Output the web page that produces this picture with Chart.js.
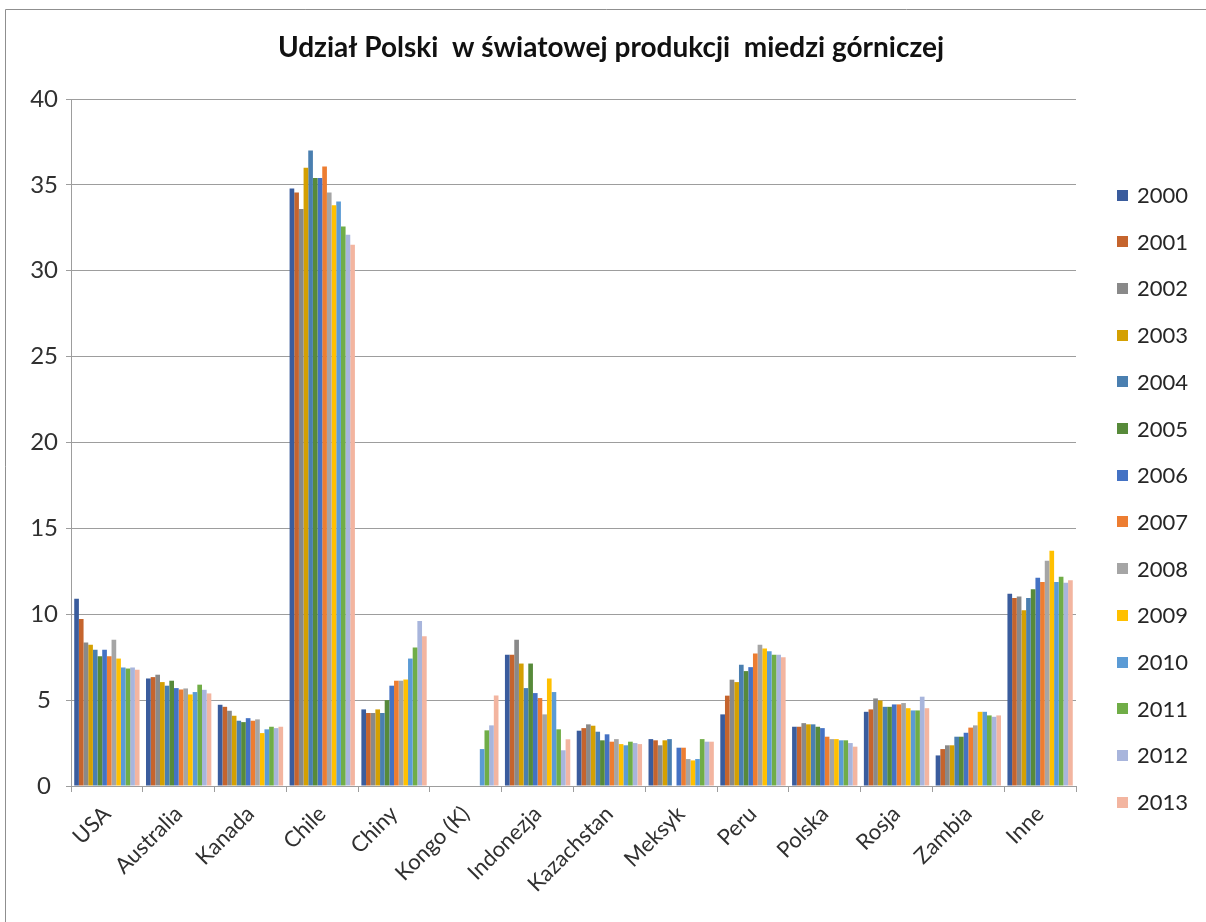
<!DOCTYPE html>
<html>
<head>
<meta charset="utf-8">
<script src="https://cdn.jsdelivr.net/npm/chart.js@4.4.1/dist/chart.umd.min.js"></script>
<style>
  html, body { margin: 0; padding: 0; background: #ffffff; }
  #wrap { width: 1206px; height: 922px; }
</style>
</head>
<body>
<div id="wrap"><canvas id="c" width="1206" height="922"></canvas></div>
<script>
// Countries / groups on the x axis
const countries = ['USA', 'Australia', 'Kanada', 'Chile', 'Chiny', 'Kongo (K)', 'Indonezja',
  'Kazachstan', 'Meksyk', 'Peru', 'Polska', 'Rosja', 'Zambia', 'Inne'];

// Years (one series per year)
const years = ['2000', '2001', '2002', '2003', '2004', '2005', '2006',
  '2007', '2008', '2009', '2010', '2011', '2012', '2013'];

// Share of world mined copper output, % (order follows `countries`)
const s2000 = [10.9, 6.26, 4.73, 34.79, 4.46, null, 7.64, 3.22, 2.73, 4.17, 3.45, 4.32, 1.78, 11.19];
const s2001 = [9.73, 6.34, 4.61, 34.56, 4.25, null, 7.64, 3.37, 2.66, 5.26, 3.45, 4.46, 2.15, 10.95];
const s2002 = [8.35, 6.48, 4.38, 33.6, 4.25, null, 8.51, 3.59, 2.37, 6.19, 3.66, 5.1, 2.37, 11.03];
const s2003 = [8.22, 6.05, 4.09, 35.99, 4.46, null, 7.13, 3.51, 2.66, 6.05, 3.59, 4.98, 2.37, 10.23];
const s2004 = [7.93, 5.84, 3.8, 37.0, 4.25, null, 5.7, 3.16, 2.73, 7.06, 3.59, 4.61, 2.87, 10.95];
const s2005 = [7.56, 6.13, 3.72, 35.4, 5.0, null, 7.13, 2.66, null, 6.69, 3.45, 4.61, 2.87, 11.45];
const s2006 = [7.93, 5.7, 3.95, 35.4, 5.84, null, 5.41, 3.01, 2.23, 6.92, 3.37, 4.75, 3.1, 12.12];
const s2007 = [7.56, 5.62, 3.8, 36.07, 6.13, null, 5.12, 2.58, 2.23, 7.72, 2.87, 4.75, 3.4, 11.88];
const s2008 = [8.51, 5.68, 3.88, 34.56, 6.13, null, 4.17, 2.73, 1.57, 8.22, 2.73, 4.83, 3.53, 13.12];
const s2009 = [7.42, 5.33, 3.08, 33.82, 6.2, null, 6.26, 2.44, 1.49, 8.01, 2.73, 4.53, 4.32, 13.7];
const s2010 = [6.9, 5.47, 3.3, 34.03, 7.42, 2.15, 5.47, 2.37, 1.57, 7.85, 2.66, 4.4, 4.32, 11.88];
const s2011 = [6.84, 5.9, 3.45, 32.58, 8.06, 3.24, 3.3, 2.58, 2.73, 7.64, 2.66, 4.4, 4.11, 12.19];
const s2012 = [6.9, 5.6, 3.37, 32.09, 9.6, 3.53, 2.08, 2.5, 2.58, 7.64, 2.5, 5.2, 4.03, 11.83];
const s2013 = [6.77, 5.39, 3.45, 31.51, 8.72, 5.27, 2.72, 2.44, 2.58, 7.5, 2.29, 4.53, 4.11, 11.98];

const seriesValues = [s2000, s2001, s2002, s2003, s2004, s2005, s2006,
  s2007, s2008, s2009, s2010, s2011, s2012, s2013];

// Value axis ticks
const yTicks = [0, 5, 10, 15, 20, 25, 30, 35, 40];

const chartTitle = 'Udział Polski  w światowej produkcji  miedzi górniczej';

const palette = ['#3A5C9D', '#C5642D', '#898989', '#D4A002', '#4A7FB0', '#578A3A', '#4472C4',
  '#ED7D31', '#A5A5A5', '#FFC000', '#5B9BD5', '#70AD47', '#A8B5DC', '#F3B5A0'];

const FONT = 'Lato, "Liberation Sans", sans-serif';
const TEXT = '#303030';
const GRID = '#9d9d9d';

// Outer frame of the chart object and the heading
const framePlugin = {
  id: 'frame',
  beforeDraw(chart) {
    const ctx = chart.ctx;
    ctx.save();
    ctx.fillStyle = '#ffffff';
    ctx.fillRect(0, 0, chart.width, chart.height);
    ctx.strokeStyle = '#8f8f8f';
    ctx.lineWidth = 1;
    ctx.beginPath();
    ctx.moveTo(5.5, chart.height + 5);
    ctx.lineTo(5.5, 9.5);
    ctx.lineTo(chart.width + 5, 9.5);
    ctx.stroke();

    ctx.fillStyle = '#111111';
    ctx.font = 'bold 28px ' + FONT;
    ctx.textAlign = 'center';
    ctx.textBaseline = 'middle';
    ctx.fillText(chartTitle, 611, 48);
    ctx.restore();
  }
};

// Vertical legend on the right, one row per year
const sideLegend = {
  id: 'sideLegend',
  afterDraw(chart) {
    const ctx = chart.ctx;
    ctx.save();
    ctx.font = '22px ' + FONT;
    ctx.textBaseline = 'middle';
    ctx.textAlign = 'left';
    chart.data.datasets.forEach((ds, i) => {
      const cy = 195 + i * 46.7;
      ctx.fillStyle = ds.backgroundColor;
      ctx.fillRect(1117, Math.round(cy - 5.5), 11, 11);
      ctx.fillStyle = '#262626';
      ctx.fillText(ds.label, 1137, cy + 1);
    });
    ctx.restore();
  }
};

new Chart(document.getElementById('c'), {
  type: 'bar',
  data: {
    labels: countries,
    datasets: years.map((yr, i) => ({
      label: yr,
      data: seriesValues[i],
      backgroundColor: palette[i],
      borderWidth: 0,
      categoryPercentage: 0.91,
      barPercentage: 1.0
    }))
  },
  options: {
    responsive: false,
    animation: false,
    devicePixelRatio: 1,
    layout: { padding: { left: 0, right: 130, top: 99, bottom: 0 } },
    plugins: {
      legend: { display: false },
      tooltip: { enabled: false },
      title: { display: false }
    },
    scales: {
      x: {
        offset: true,
        grid: {
          offset: true,
          drawOnChartArea: false,
          drawTicks: true,
          tickLength: 6,
          color: GRID
        },
        border: { display: true, color: GRID, width: 1 },
        ticks: {
          color: TEXT,
          font: { family: FONT, size: 22 },
          minRotation: 45,
          maxRotation: 45,
          autoSkip: false,
          padding: 9
        },
        afterFit(scale) { scale.height = 136; }
      },
      y: {
        min: 0,
        max: 40,
        afterBuildTicks(scale) { scale.ticks = yTicks.map(v => ({ value: v })); },
        grid: { color: GRID, lineWidth: 1, tickLength: 5, drawTicks: true },
        border: { display: true, color: GRID, width: 1 },
        ticks: {
          color: TEXT,
          font: { family: FONT, size: 24 },
          crossAlign: 'center',
          padding: 8
        },
        afterFit(scale) { scale.width = 71; }
      }
    }
  },
  plugins: [framePlugin, sideLegend]
});
</script>
</body>
</html>
